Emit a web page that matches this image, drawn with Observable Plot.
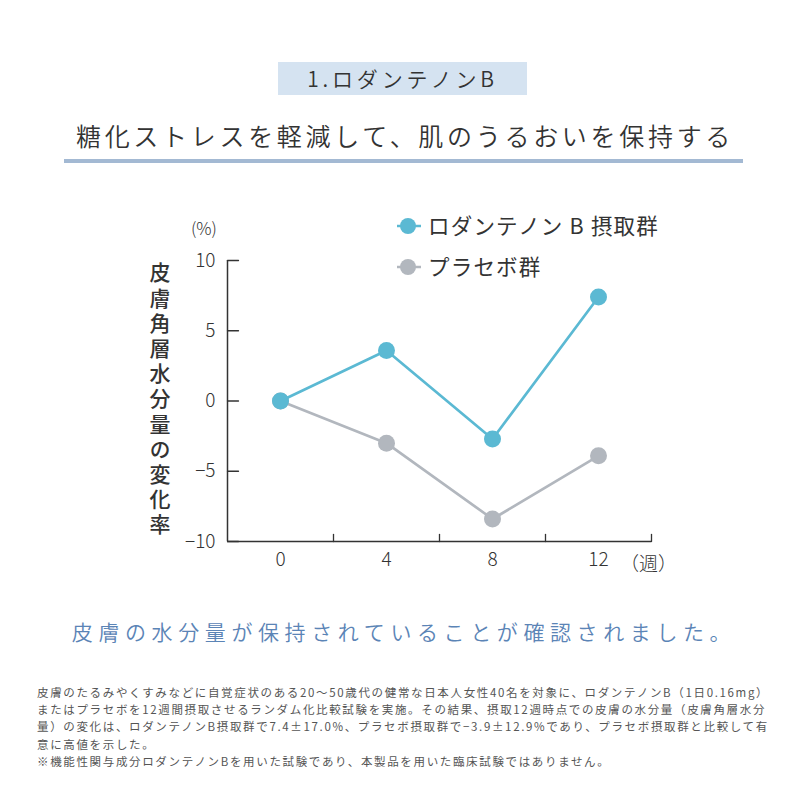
<!DOCTYPE html>
<html><head><meta charset="utf-8">
<script src="https://cdn.jsdelivr.net/npm/d3@7"></script>
<script src="https://cdn.jsdelivr.net/npm/@observablehq/plot@0.6"></script>
<style>
html,body{margin:0;padding:0;background:#fff;}
#page{position:relative;width:800px;height:800px;overflow:hidden;font-family:"Noto Sans CJK JP","Noto Sans",sans-serif;color:#333;}
.abs{position:absolute;white-space:nowrap;}
#badge{left:278px;top:62px;width:249px;height:33px;background:#d5e3f1;font-size:21px;line-height:33px;text-align:center;letter-spacing:3.8px;color:#333;font-weight:350;}
#headline{left:0;width:800px;top:116px;font-size:25px;line-height:38px;text-align:center;letter-spacing:3.7px;color:#333;font-weight:350;padding-left:10px;box-sizing:border-box;}
#rule{left:64px;top:159px;width:679px;height:4px;background:#a3b9d3;}
#chart{left:0;top:180px;}
#ylab{left:148px;top:262px;writing-mode:vertical-rl;font-size:21px;letter-spacing:4.2px;font-weight:500;color:#333;line-height:24px;}
#pct{left:191px;top:215px;font-size:17px;font-weight:300;}
#week{left:620px;top:549px;font-size:19px;font-weight:300;}
.leg{font-size:21.5px;line-height:28px;letter-spacing:1.2px;}
.leg svg{vertical-align:middle;}
#message{left:0;width:800px;top:616px;text-align:center;font-size:21px;letter-spacing:5.6px;color:#5b84b6;font-weight:350;padding-left:8px;box-sizing:border-box;}
#notes{left:37px;top:684px;font-size:11.5px;line-height:17.2px;letter-spacing:1.65px;color:#555;}
</style></head>
<body>
<div id="page">
  <div id="badge" class="abs">1.ロダンテノンB</div>
  <div id="headline" class="abs">糖化ストレスを軽減して、肌のうるおいを保持する</div>
  <div id="rule" class="abs"></div>
  <div id="chart" class="abs"></div>
  <div id="pct" class="abs">(%)</div>
  <div id="ylab" class="abs">皮膚角層水分量の変化率</div>
  <div id="week" class="abs">（週）</div>
  <div id="legend"></div>
  <div id="message" class="abs">皮膚の水分量が保持されていることが確認されました。</div>
  <div id="notes" class="abs">皮膚のたるみやくすみなどに自覚症状のある20～50歳代の健常な日本人女性40名を対象に、ロダンテノンB（1日0.16mg）<br>またはプラセボを12週間摂取させるランダム化比較試験を実施。その結果、摂取12週時点での皮膚の水分量（皮膚角層水分<br>量）の変化は、ロダンテノンB摂取群で7.4±17.0%、プラセボ摂取群で−3.9±12.9%であり、プラセボ摂取群と比較して有<br>意に高値を示した。<br>※機能性関与成分ロダンテノンBを用いた試験であり、本製品を用いた臨床試験ではありません。</div>
</div>
<script>
// ---- data ----
const weeks = [0, 4, 8, 12];
const rhodanthenone = [0, 3.6, -2.7, 7.4];
const placebo = [0, -3.0, -8.4, -3.9];
const seriesNames = ["ロダンテノン B 摂取群", "プラセボ群"];
const seriesColors = ["#5bb9d3", "#b2b7be"];
const yTicks = [-10, -5, 0, 5, 10];
const xTickLabels = [0, 4, 8, 12];
const xMinorTicks = [2, 6, 10, 14];
const xDomain = [-2, 14];
const yDomain = [-10, 10];

const rowsA = weeks.map((w, i) => ({week: w, value: rhodanthenone[i]}));
const rowsP = weeks.map((w, i) => ({week: w, value: placebo[i]}));

const tickShape = {draw(ctx, l) { ctx.moveTo(0, 0); ctx.lineTo(0, -l); }};

const chart = Plot.plot({
  width: 800,
  height: 420,
  marginLeft: 227,
  marginRight: 149,
  marginTop: 80,
  marginBottom: 59,
  style: {fontFamily: '"Noto Sans CJK JP", sans-serif', color: "#333", background: "transparent", fontWeight: 300},
  x: {domain: xDomain},
  y: {domain: yDomain},
  marks: [
    Plot.axisY(yTicks, {tickSize: 0, tickPadding: 12, fontSize: 19, fill: "#333", label: null}),
    Plot.axisX(xTickLabels, {tickSize: 0, tickPadding: 11, fontSize: 19, fill: "#333", label: null}),
    Plot.vector(yTicks, {x: () => xDomain[0], y: d => d, length: 11, rotate: 90, anchor: "start", shape: tickShape, stroke: "#333", strokeWidth: 1.3}),
    Plot.vector(xMinorTicks, {x: d => d, y: () => yDomain[0], length: 7, rotate: 0, anchor: "start", shape: tickShape, stroke: "#333", strokeWidth: 1.3}),
    Plot.ruleX([xDomain[0]], {y1: yDomain[0], y2: yDomain[1], stroke: "#333", strokeWidth: 1.5}),
    Plot.ruleY([yDomain[0]], {x1: xDomain[0], x2: xDomain[1], stroke: "#333", strokeWidth: 1.5}),
    Plot.line(rowsP, {x: "week", y: "value", stroke: seriesColors[1], strokeWidth: 2.7}),
    Plot.dot(rowsP, {x: "week", y: "value", r: 8.5, fill: seriesColors[1]}),
    Plot.line(rowsA, {x: "week", y: "value", stroke: seriesColors[0], strokeWidth: 2.7}),
    Plot.dot(rowsA, {x: "week", y: "value", r: 8.5, fill: seriesColors[0]})
  ]
});
document.getElementById("chart").appendChild(chart);

// legend
const legend = document.getElementById("legend");
const legTops = [211, 252];
seriesNames.forEach((name, i) => {
  const div = document.createElement("div");
  div.className = "abs leg";
  div.style.left = "396px";
  div.style.top = legTops[i] + "px";
  div.innerHTML = `<svg width="26" height="20" style="margin-right:6px;margin-top:-4px"><line x1="1" y1="10" x2="25" y2="10" stroke="${seriesColors[i]}" stroke-width="2.5"/><circle cx="12" cy="10" r="8" fill="${seriesColors[i]}"/></svg>${name}`;
  legend.appendChild(div);
});
</script>
</body></html>
